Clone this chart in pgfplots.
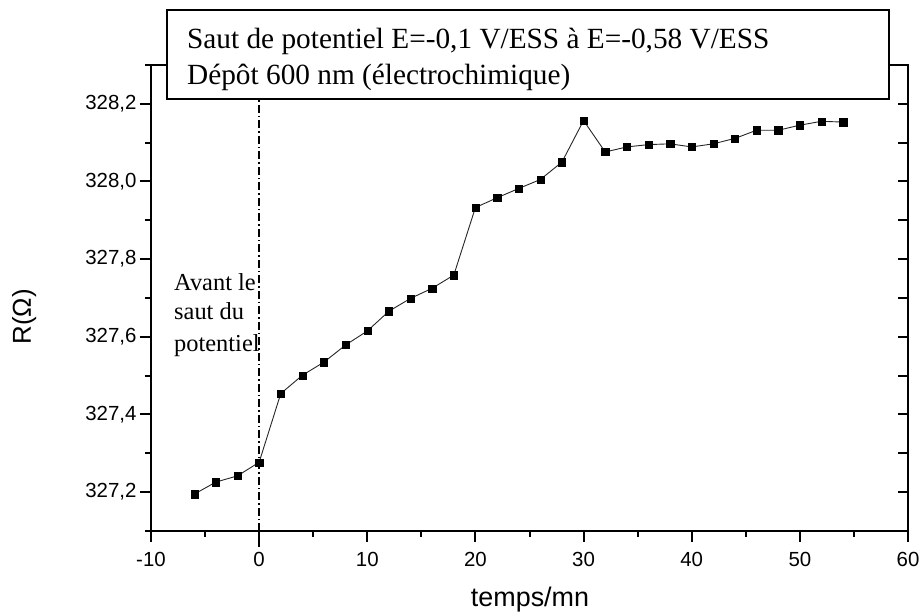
\documentclass[border=0pt]{standalone}
\usepackage{pgfplots}
\pgfplotsset{compat=1.18}
\usepackage{fontspec}
\setmainfont{Liberation Serif}
\setsansfont{Liberation Sans}

\pgfplotstableread{
x y
-6 327.195
-4 327.226
-2 327.242
0 327.277
2 327.454
4 327.501
6 327.535
8 327.579
10 327.615
12 327.666
14 327.699
16 327.725
18 327.759
20 327.933
22 327.958
24 327.982
26 328.005
28 328.050
30 328.157
32 328.076
34 328.089
36 328.095
38 328.097
40 328.089
42 328.097
44 328.111
46 328.132
48 328.132
50 328.145
52 328.155
54 328.153
}\datatable

\begin{document}
\begin{tikzpicture}
\begin{axis}[
  at={(0,0)}, anchor=south west,
  scale only axis, width=757bp, height=466bp,
  xmin=-10, xmax=60, ymin=327.1, ymax=328.3,
  xtick={-10,0,10,20,30,40,50,60},
  minor xtick={-5,5,15,25,35,45,55},
  ytick={327.2,327.4,327.6,327.8,328.0,328.2},
  minor ytick={327.1,327.3,327.5,327.7,327.9,328.1,328.3},
  xtick pos=bottom, ytick pos=left, tick align=outside,
  major tick length=11bp, minor tick length=6bp,
  axis line style={line width=2.2bp},
  every tick/.style={black, line width=2bp},
  tick label style={font=\fontsize{20.5}{24}\selectfont\sffamily},
  /pgf/number format/assume math mode=true,
  yticklabel style={/pgf/number format/fixed, /pgf/number format/fixed zerofill,
    /pgf/number format/precision=1, /pgf/number format/use comma},
  xticklabel style={/pgf/number format/fixed, /pgf/number format/precision=0,
    /pgf/number format/1000 sep={}, yshift=-7bp},
  clip=false,
]
\addplot[black, line width=1.3bp, dash pattern=on 8bp off 3bp on 1.5bp off 3bp, forget plot]
  coordinates {(0,327.06) (0,328.3)};
\addplot[black!85, line width=0.9bp, mark=square*, mark size=3.6bp,
  mark options={solid, fill=black, draw=black, line width=0.3bp}]
  table[x=x, y=y] {\datatable};
\end{axis}
\begin{axis}[
  at={(0,0)}, anchor=south west,
  scale only axis, width=757bp, height=466bp,
  xmin=-10, xmax=60, ymin=327.1, ymax=328.3,
  xtick=\empty,
  ytick={327.2,327.3,327.4,327.5,327.6,327.7,327.8,327.9,328.0,328.1,328.2},
  yticklabels={},
  ytick pos=right, tick align=inside,
  major tick length=10bp,
  axis line style={line width=2.2bp},
  every tick/.style={black, line width=2bp},
]
\end{axis}
\draw[line width=1.6bp, fill=white] (16bp,432bp) rectangle (738bp,521bp);
\node[anchor=base west, inner sep=0, font=\fontsize{29.4}{36}\selectfont] at (36bp,482bp)
  {Saut de potentiel E=-0,1 V/ESS à E=-0,58 V/ESS};
\node[anchor=base west, inner sep=0, font=\fontsize{29.4}{36}\selectfont] at (36bp,446bp)
  {Dépôt 600 nm (électrochimique)};
\node[anchor=base west, inner sep=0, font=\fontsize{24.5}{29}\selectfont] at (23bp,240bp) {Avant le};
\node[anchor=base west, inner sep=0, font=\fontsize{24.5}{29}\selectfont] at (23bp,211bp) {saut du};
\node[anchor=base west, inner sep=0, font=\fontsize{24.5}{29}\selectfont] at (23bp,179bp) {potentiel};
\node[anchor=base, inner sep=0, font=\fontsize{27}{32}\selectfont\sffamily] at (379bp,-75bp) {temps/mn};
\node[rotate=90, anchor=base, inner sep=0, font=\fontsize{26}{31}\selectfont\sffamily] at (-120bp,214bp) {R(Ω)};
\pgfresetboundingbox
\path (-151bp,-85bp) rectangle (772bp,531bp);
\end{tikzpicture}
\end{document}
